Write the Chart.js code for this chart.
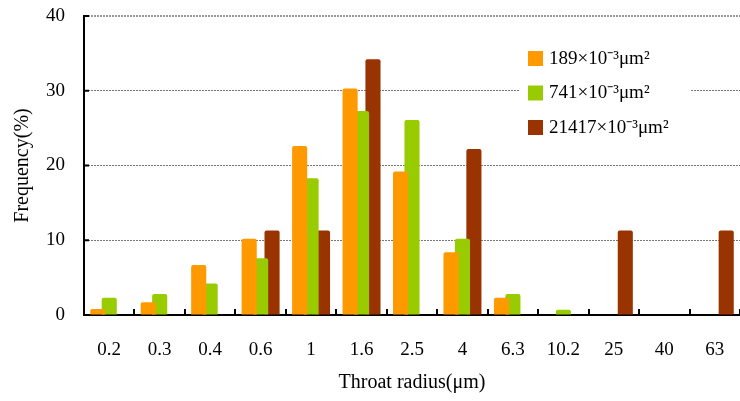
<!DOCTYPE html>
<html>
<head>
<meta charset="utf-8">
<script src="https://cdn.jsdelivr.net/npm/chart.js@4.4.0/dist/chart.umd.min.js"></script>
<style>
  html, body { margin: 0; padding: 0; background: #fff; }
  #wrap { width: 740px; height: 401px; position: relative; }
</style>
</head>
<body>
<div id="wrap"><canvas id="myChart"></canvas></div>
<script>
// throat radius classes (um)
var categories = ["0.2", "0.3", "0.4", "0.6", "1", "1.6", "2.5", "4", "6.3", "10.2", "25", "40", "63"];
var seriesNames = ["189\u00d710\u207b\u00b3\u03bcm\u00b2", "741\u00d710\u207b\u00b3\u03bcm\u00b2", "21417\u00d710\u207b\u00b3\u03bcm\u00b2"];
var seriesColors = ["#FF9900", "#99CC00", "#993300"];
// frequency (%), null = no bar
var k189 = [0.8, 1.7, 6.7, 10.2, 22.6, 30.3, 19.2, 8.4, 2.3, null, null, null, null];
var k741 = [2.3, 2.8, 4.2, 7.6, 18.3, 27.3, 26.1, 10.2, 2.8, 0.7, null, null, null];
var k21417 = [null, null, null, 11.3, 11.3, 34.2, null, 22.2, null, null, 11.3, null, 11.3];
var yTicks = [0, 10, 20, 30, 40];

var serif = "'Liberation Serif', 'Times New Roman', serif";

// inward tick marks + boxed legend inside the plot
var extras = {
  id: 'extras',
  afterDatasetsDraw: function(chart) {
    var c = chart.ctx, xs = chart.scales.x, ys = chart.scales.y;
    c.save();
    c.strokeStyle = '#000';
    c.lineWidth = 2;
    c.beginPath();
    for (var i = 0; i <= categories.length; i++) {
      var px = Math.round(xs.getPixelForValue(i - 0.5));
      c.moveTo(px, ys.bottom);
      c.lineTo(px, ys.bottom - 6);
    }
    yTicks.forEach(function(v) {
      var py = ys.getPixelForValue(v);
      c.moveTo(xs.left, py);
      c.lineTo(xs.left + 5, py);
    });
    c.stroke();

    // legend
    c.fillStyle = '#fff';
    c.fillRect(519, 40, 172, 106);
    c.font = '19px ' + serif;
    c.textBaseline = 'middle';
    chart.data.datasets.forEach(function(ds, i) {
      var yy = 58 + i * 34.5;
      c.fillStyle = ds.backgroundColor;
      c.fillRect(528, yy - 7, 15, 15);
      c.fillStyle = '#000';
      c.fillText(ds.label, 549, yy + 1);
    });
    c.restore();
  }
};

var ctx = document.getElementById("myChart").getContext('2d');
var myChart = new Chart(ctx, {
  type: 'bar',
  data: {
    labels: categories,
    datasets: [k189, k741, k21417].map(function(d, i) {
      return {
        label: seriesNames[i],
        data: d,
        backgroundColor: seriesColors[i],
        borderRadius: 2,
        borderSkipped: 'bottom',
        categoryPercentage: 0.68,
        barPercentage: 1.32
      };
    })
  },
  options: {
    responsive: true,
    maintainAspectRatio: false,
    animation: false,
    layout: { padding: { top: 16, right: 0, left: 0, bottom: 0 } },
    plugins: {
      legend: { display: false },
      tooltip: { enabled: false }
    },
    scales: {
      x: {
        grid: { display: false, drawTicks: false },
        border: { color: '#000', width: 2 },
        ticks: { color: '#000', font: { family: serif, size: 19 }, padding: 24, maxRotation: 0 },
        title: { display: true, text: 'Throat radius(\u03bcm)', color: '#000',
                 font: { family: serif, size: 20 }, padding: { top: 0, bottom: 6 } },
        afterFit: function(s) { s.height = 86; s.paddingLeft = 0; s.paddingRight = 0; }
      },
      y: {
        min: 0, max: 40,
        ticks: { stepSize: 10, color: '#000', font: { family: serif, size: 19 }, padding: 19 },
        grid: {
          drawTicks: false,
          color: function(c) { return c.tick.value === 0 ? 'rgba(0,0,0,0)' : (c.tick.value === 40 ? '#999' : '#777'); },
          lineWidth: function(c) { return c.tick.value === 40 ? 2 : 1; }
        },
        border: { color: '#000', width: 2, dash: [2, 1] },
        title: { display: true, text: 'Frequency(%)', color: '#000',
                 font: { family: serif, size: 20 }, padding: { top: 11, bottom: 0 } },
        afterFit: function(s) { s.width = 84; s.paddingTop = 0; s.paddingBottom = 0; }
      }
    }
  },
  plugins: [extras]
});
</script>
</body>
</html>
